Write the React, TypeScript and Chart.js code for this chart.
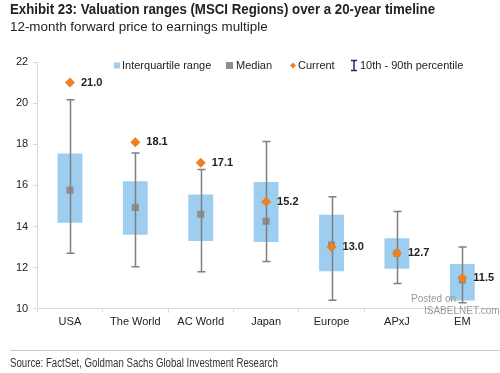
import React, { useEffect, useRef } from "react";
import { Chart, registerables } from "chart.js";

Chart.register(...registerables);

const categories = ["USA", "The World", "AC World", "Japan", "Europe", "APxJ", "EM"];
const p10 = [12.7, 12.05, 11.8, 12.3, 10.42, 11.23, 10.3];
const q1 = [14.18, 13.6, 13.3, 13.25, 11.82, 11.95, 10.4];
const median = [15.77, 14.93, 14.6, 14.26, 13.1, 12.7, 11.4];
const q3 = [17.55, 16.2, 15.56, 16.16, 14.57, 13.43, 12.18];
const p90 = [20.16, 17.58, 16.77, 18.13, 15.45, 14.73, 13.0];
const current = [21.0, 18.1, 17.1, 15.2, 13.0, 12.7, 11.5];
const yTicks = [10, 12, 14, 16, 18, 20, 22];

const BLUE = "#9DCEF0";
const GRAY = "#8E8E8E";
const ORANGE = "#F07F1E";
const WHISKER = "#7F7F7F";
const FONT = "'Liberation Sans', Arial, sans-serif";

function FitText(props: { text: string; width: number; style: React.CSSProperties }) {
  const r = useRef<HTMLDivElement | null>(null);
  useEffect(() => {
    const el = r.current;
    if (!el) return;
    el.style.transform = "none";
    const w = el.scrollWidth;
    if (w > 0) el.style.transform = `scaleX(${props.width / w})`;
  }, [props.text, props.width]);
  return (
    <div ref={r} style={{ ...props.style, position: "absolute", whiteSpace: "nowrap", transformOrigin: "left center" }}>
      {props.text}
    </div>
  );
}

export default function App() {
  const ref = useRef<HTMLCanvasElement | null>(null);

  useEffect(() => {
    if (!ref.current) return;

    const whiskerPlugin = {
      id: "whiskers",
      afterDatasetDraw(chart: any, args: any) {
        if (args.index !== 1) return;
        const { ctx, scales } = chart;
        const x = scales.x;
        const y = scales.y;
        ctx.save();
        ctx.strokeStyle = WHISKER;
        ctx.lineWidth = 1.5;
        categories.forEach((_, i) => {
          const cx = Math.round(x.getPixelForValue(i)) + 0.5;
          const yt = y.getPixelForValue(p90[i]);
          const yb = y.getPixelForValue(p10[i]);
          ctx.beginPath();
          ctx.moveTo(cx, yt);
          ctx.lineTo(cx, yb);
          ctx.moveTo(cx - 4, yt);
          ctx.lineTo(cx + 4, yt);
          ctx.moveTo(cx - 4, yb);
          ctx.lineTo(cx + 4, yb);
          ctx.stroke();
        });
        ctx.restore();
      },
    };

    const labelPlugin = {
      id: "curLabels",
      afterDatasetsDraw(chart: any) {
        const { ctx, scales } = chart;
        ctx.save();
        ctx.fillStyle = "#222";
        ctx.font = `bold 11px ${FONT}`;
        ctx.textBaseline = "middle";
        ctx.textAlign = "left";
        categories.forEach((_, i) => {
          const cx = scales.x.getPixelForValue(i);
          const cy = scales.y.getPixelForValue(current[i]);
          ctx.fillText(current[i].toFixed(1), cx + 11, cy);
        });
        ctx.restore();
      },
    };

    const legendPlugin = {
      id: "customLegend",
      afterDraw(chart: any) {
        const { ctx } = chart;
        ctx.save();
        ctx.font = `11px ${FONT}`;
        ctx.fillStyle = "#222";
        ctx.textBaseline = "middle";
        const y = 65.5;
        let x = 114;
        ctx.fillStyle = BLUE;
        ctx.fillRect(x, y - 3, 6, 6);
        ctx.fillStyle = "#222";
        ctx.fillText("Interquartile range", x + 8, y);
        x = 226;
        ctx.fillStyle = GRAY;
        ctx.fillRect(x, y - 3.5, 7, 7);
        ctx.fillStyle = "#222";
        ctx.fillText("Median", x + 10, y);
        x = 293;
        ctx.fillStyle = ORANGE;
        ctx.beginPath();
        ctx.moveTo(x, y - 3);
        ctx.lineTo(x + 3, y);
        ctx.lineTo(x, y + 3);
        ctx.lineTo(x - 3, y);
        ctx.closePath();
        ctx.fill();
        ctx.fillStyle = "#222";
        ctx.fillText("Current", x + 5, y);
        x = 354;
        ctx.strokeStyle = "#1F2D5A";
        ctx.lineWidth = 1.5;
        ctx.beginPath();
        ctx.moveTo(x, y - 5);
        ctx.lineTo(x, y + 5);
        ctx.moveTo(x - 3, y - 5);
        ctx.lineTo(x + 3, y - 5);
        ctx.moveTo(x - 3, y + 5);
        ctx.lineTo(x + 3, y + 5);
        ctx.stroke();
        ctx.fillStyle = "#222";
        ctx.fillText("10th - 90th percentile", x + 6, y);
        ctx.restore();
      },
    };

    const chart = new Chart(ref.current, {
      type: "bar",
      data: {
        labels: categories,
        datasets: [
          {
            type: "bar",
            label: "Interquartile range",
            data: q1.map((v, i) => [v, q3[i]]) as any,
            backgroundColor: BLUE,
            borderWidth: 0,
            barPercentage: 0.38,
            categoryPercentage: 1,
            order: 3,
          },
          {
            type: "line",
            label: "Median",
            data: median,
            showLine: false,
            pointStyle: "rect",
            pointRadius: 5,
            backgroundColor: GRAY,
            borderColor: GRAY,
            borderWidth: 0,
            order: 2,
          },
          {
            type: "line",
            label: "Current",
            data: current,
            showLine: false,
            pointStyle: "rectRot",
            pointRadius: 5,
            backgroundColor: ORANGE,
            borderColor: ORANGE,
            borderWidth: 0,
            order: 1,
          },
        ],
      },
      options: {
        animation: false,
        responsive: false,
        layout: { padding: { left: 11, right: 4, top: 62, bottom: 41 } },
        plugins: {
          legend: { display: false },
          tooltip: { enabled: false },
        },
        scales: {
          x: {
            offset: true,
            grid: {
              display: true,
              drawOnChartArea: false,
              offset: true,
              tickLength: 4,
              color: "#D9D9D9",
            },
            border: { color: "#D9D9D9" },
            ticks: {
              color: "#222",
              font: { family: FONT, size: 11 },
              padding: 3,
              maxRotation: 0,
            },
          },
          y: {
            min: 10,
            max: 22,
            afterBuildTicks(scale: any) {
              scale.ticks = yTicks.map((v) => ({ value: v }));
            },
            grid: {
              display: true,
              drawOnChartArea: false,
              tickLength: 4,
              color: "#D9D9D9",
            },
            border: { color: "#D9D9D9" },
            ticks: {
              color: "#222",
              font: { family: FONT, size: 11 },
              padding: 5,
            },
          },
        },
      },
      plugins: [whiskerPlugin, labelPlugin, legendPlugin],
    });

    return () => chart.destroy();
  }, []);

  return (
    <div style={{ position: "absolute", left: 0, top: 0, width: 500, height: 373, background: "#fff", overflow: "hidden" }}>
      <canvas ref={ref} width={500} height={373} style={{ position: "absolute", left: 0, top: 0 }} />
      <FitText
        text="Exhibit 23: Valuation ranges (MSCI Regions) over a 20-year timeline"
        width={425}
        style={{ left: 10, top: 0, fontFamily: FONT, fontWeight: "bold", fontSize: 15.5, color: "#222", lineHeight: "18px" }}
      />
      <FitText
        text="12-month forward price to earnings multiple"
        width={258}
        style={{ left: 10, top: 18, fontFamily: FONT, fontSize: 13.5, color: "#222", lineHeight: "17px" }}
      />
      <div style={{ position: "absolute", left: 411, top: 293, fontFamily: FONT, fontSize: 10, color: "#999", whiteSpace: "nowrap", lineHeight: "12px" }}>
        Posted on
      </div>
      <div style={{ position: "absolute", left: 424, top: 305, fontFamily: FONT, fontSize: 10, color: "#999", whiteSpace: "nowrap", lineHeight: "12px" }}>
        ISABELNET.com
      </div>
      <div style={{ position: "absolute", left: 10, top: 350, width: 490, height: 1, background: "#C8C8C8" }} />
      <FitText
        text="Source: FactSet, Goldman Sachs Global Investment Research"
        width={268}
        style={{ left: 10, top: 356, fontFamily: FONT, fontSize: 12.5, color: "#333", lineHeight: "15px" }}
      />
    </div>
  );
}
